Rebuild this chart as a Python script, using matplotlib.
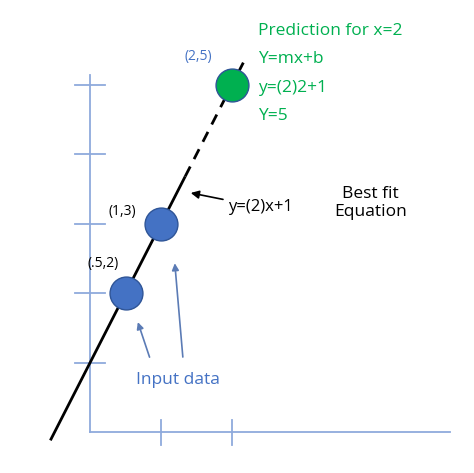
import numpy as np
import matplotlib.pyplot as plt

plt.rcParams['font.family'] = ['Open Sans', 'DejaVu Sans']

# data
input_x = [0.5, 1]
input_y = [2, 3]
pred_x = [2]
pred_y = [5]
m, b = 2, 1
x_ticks = [1, 2]
y_ticks = [1, 2, 3, 4, 5]
pred_lines = ["Prediction for x=2", "Y=mx+b", "y=(2)2+1", "Y=5"]

axis_col = '#8faadc'
blue = '#4472c4'
green = '#00b050'

fig = plt.figure(figsize=(4.74, 4.73), dpi=100)
ax = fig.add_axes([0, 0, 1, 1])
ax.set_xlim(-1.27, 5.41)
ax.set_ylim(-0.59, 6.22)
ax.axis('off')

# hand-drawn axes
ax.plot([0, 0], [0, 5.14], color=axis_col, lw=1.3)
ax.plot([0, 5.07], [0, 0], color=axis_col, lw=1.3)
for t in y_ticks:
    ax.plot([-0.21, 0.21], [t, t], color=axis_col, lw=1.3)
for t in x_ticks:
    ax.plot([t, t], [-0.19, 0.17], color=axis_col, lw=1.3)

# best fit line
xs = np.array([-0.56, 1.34])
ax.plot(xs, m * xs + b, color='black', lw=2, solid_capstyle='butt')
xd = np.array([1.34, 2.2])
ax.plot(xd, m * xd + b, color='black', lw=2, ls=(0, (4, 3)))

ax.scatter(input_x, input_y, s=560, color=blue, edgecolor='#2f5597', lw=1, zorder=3)
ax.scatter(pred_x, pred_y, s=560, color=green, edgecolor='#2f5597', lw=1, zorder=3)

ax.text(1.53, 5.4, "(2,5)", color=blue, fontsize=10, ha='center', va='center')
ax.text(0.45, 3.17, "(1,3)", color='black', fontsize=10, ha='center', va='center')
ax.text(0.18, 2.42, "(.5,2)", color='black', fontsize=10, ha='center', va='center')

for i, s in enumerate(pred_lines):
    ax.text(2.37, 5.78 - i * 0.41, s, color=green, fontsize=12.5, va='center')

ax.annotate("y=(2)x+1", xy=(1.38, 3.45), xytext=(1.95, 3.24), fontsize=12,
            va='center', arrowprops=dict(arrowstyle='-|>', color='black', lw=1.2))
ax.text(3.95, 3.3, "Best fit\nEquation", fontsize=12.5, ha='center', va='center')

ax.text(0.64, 0.75, "Input data", color=blue, fontsize=12.5, va='center')
ap = dict(arrowstyle='-|>', color='#5b7bb5', lw=1.2)
ax.annotate("", xy=(0.66, 1.62), xytext=(0.85, 1.04), arrowprops=ap)
ax.annotate("", xy=(1.19, 2.47), xytext=(1.31, 1.04), arrowprops=ap)

fig.savefig('out.png', dpi=100)
